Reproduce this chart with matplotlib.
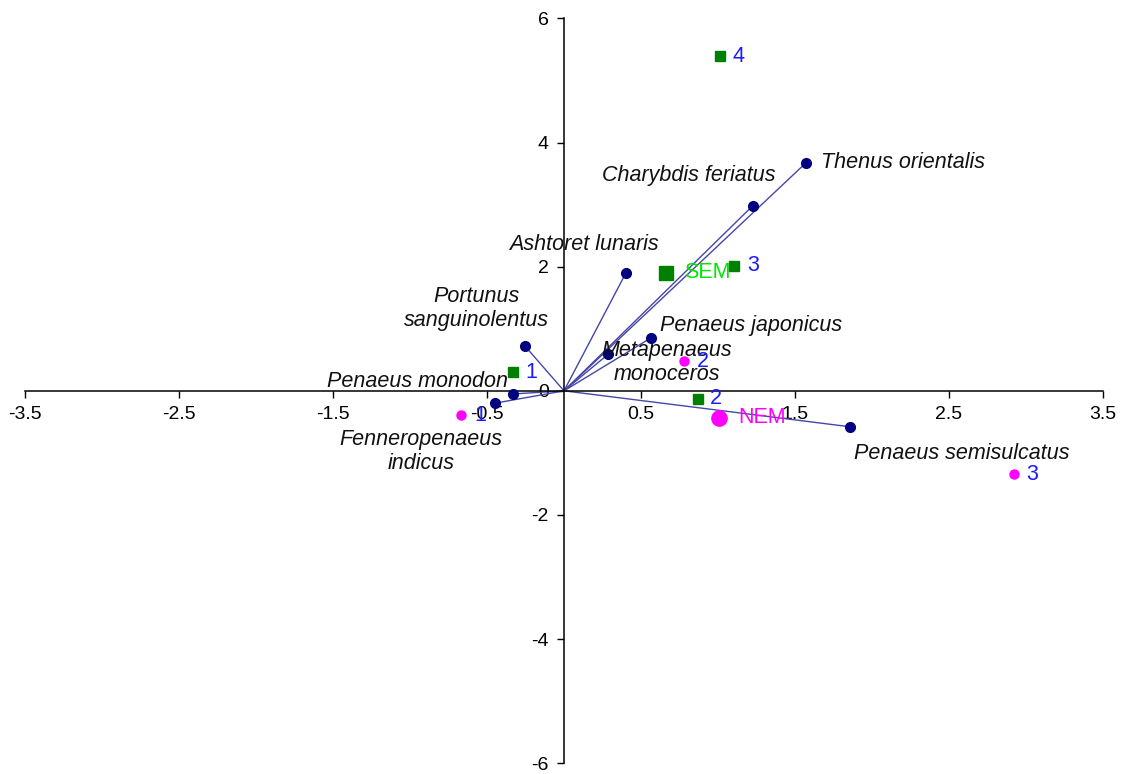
import matplotlib
matplotlib.use("Agg")
import matplotlib.pyplot as plt

plt.rcParams['font.family'] = ['Liberation Sans', 'DejaVu Sans']

# species loadings (navy dots, vectors from origin)
species = ["Thenus orientalis", "Charybdis feriatus", "Ashtoret lunaris",
           "Penaeus japonicus", "Metapenaeus\nmonoceros", "Portunus\nsanguinolentus",
           "Penaeus monodon", "Fenneropenaeus\nindicus", "Penaeus semisulcatus"]
sp_x = [1.57, 1.225, 0.40, 0.566, 0.287, -0.253, -0.33, -0.45, 1.86]
sp_y = [3.67, 2.98, 1.89, 0.855, 0.59, 0.72, -0.05, -0.20, -0.58]

# SEM stations (green squares) and centroid
sem_labels = ["1", "2", "3", "4"]
sem_x = [-0.33, 0.867, 1.106, 1.016]
sem_y = [0.30, -0.13, 2.015, 5.39]
sem_c = (0.66, 1.90)

# NEM stations (magenta dots) and centroid
nem_labels = ["1", "2", "3"]
nem_x = [-0.666, 0.78, 2.92]
nem_y = [-0.39, 0.48, -1.34]
nem_c = (1.005, -0.43)

x_ticks = [-3.5, -2.5, -1.5, -0.5, 0.5, 1.5, 2.5, 3.5]
y_ticks = [-6, -4, -2, 0, 2, 4, 6]

# label placement for species (offset in points, horizontal alignment)
sp_off = [(11, 0, "left"), (-46, 22, "center"), (-30, 21, "center"),
          (6, 9, "left"), (42, -6, "center"), (-35, 27, "center"),
          (-4, 9, "right"), (-53, -35, "center"), (80, -19, "center")]

fig = plt.figure(figsize=(11.27, 7.74), dpi=100)
ax = fig.add_axes([0.0222, 0.0138, 0.9565, 0.9625])
ax.set_xlim(-3.5, 3.5)
ax.set_ylim(-6, 6)

for sp in ["top", "right"]:
    ax.spines[sp].set_visible(False)
ax.spines["left"].set_position(("data", 0))
ax.spines["bottom"].set_position(("data", 0))
for sp in ["left", "bottom"]:
    ax.spines[sp].set_linewidth(1.1)
ax.set_xticks(x_ticks)
ax.set_xticklabels([f"{t:g}" for t in x_ticks])
ax.set_yticks(y_ticks)
ax.set_yticklabels([f"{t:g}" for t in y_ticks])
ax.tick_params(direction="out", length=5, width=1, labelsize=14, pad=6)

for x, y in zip(sp_x, sp_y):
    ax.plot([0, x], [0, y], color="#4646a8", lw=1, zorder=2)
ax.plot(sp_x, sp_y, "o", color="#000080", ms=7, zorder=3)
for name, x, y, (dx, dy, ha) in zip(species, sp_x, sp_y, sp_off):
    ax.annotate(name, (x, y), xytext=(dx, dy), textcoords="offset points",
                ha=ha, va="center", fontsize=15.5, style="italic", color="#111111")

ax.plot(sem_x, sem_y, "s", color="#008000", ms=6.5, zorder=4)
ax.plot(*sem_c, "s", color="#008000", ms=10, zorder=4)
ax.annotate("SEM", sem_c, xytext=(13, 0), textcoords="offset points",
            ha="left", va="center", fontsize=15.5, color="#00e600")

ax.plot(nem_x, nem_y, "o", color="#ff00ff", ms=6.5, zorder=4)
ax.plot(*nem_c, "o", color="#ff00ff", ms=11, zorder=4)
ax.annotate("NEM", nem_c, xytext=(14, 0), textcoords="offset points",
            ha="left", va="center", fontsize=15.5, color="#ff00ff")

for lab, x, y in zip(sem_labels + nem_labels, sem_x + nem_x, sem_y + nem_y):
    ax.annotate(lab, (x, y), xytext=(9, 0), textcoords="offset points",
                ha="left", va="center", fontsize=15.5, color="#1a1aff")

fig.savefig("out.png", dpi=100)
